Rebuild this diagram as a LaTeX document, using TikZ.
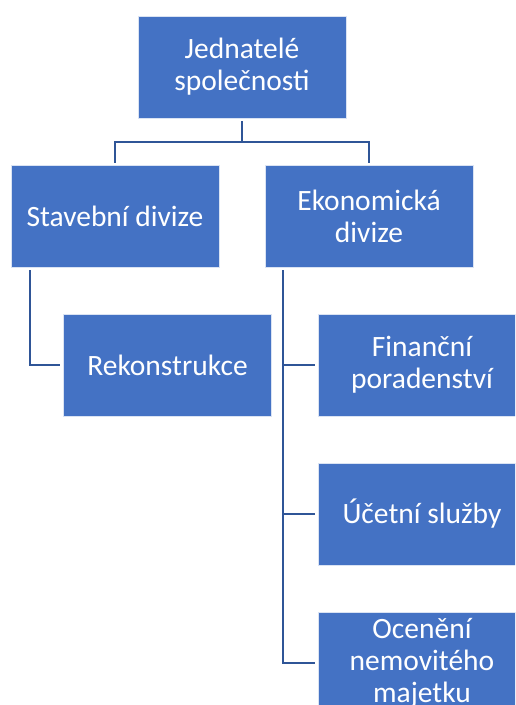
\documentclass[tikz,border=0pt]{standalone}
\usepackage{fontspec}
\setmainfont{Carlito}
\usepackage{tikz}
\usetikzlibrary{calc}
\usepackage{xcolor}
\definecolor{boxblue}{HTML}{4472C4}
\definecolor{lineblue}{HTML}{2F5597}

\begin{document}
\begin{tikzpicture}[x=1pt,y=-1pt,
box/.style={rectangle,fill=boxblue,draw=white!80!boxblue,line width=0.6pt,
  text=white,minimum width=208pt,minimum height=102pt,inner sep=2pt,
  align=center,font=\fontsize{29.5}{32}\selectfont},
link/.style={lineblue,line width=2pt,shorten <=3pt,shorten >=3pt}]
\useasboundingbox (0,0) rectangle (515,705);
\clip (0,0) rectangle (515,705);

\node[box] (top) at (242,67) {Jednatelé\\společnosti};
\node[box] (stav) at (115,216) {Stavební divize};
\node[box] (ekon) at (369,216) {Ekonomická\\divize};
\node[box] (rek) at (167.5,365) {Rekonstrukce};
\node[box] (fin) at (422,365) {Finanční\\poradenství};
\node[box] (uct) at (422,514) {Účetní služby};
\node[box] (oce) at (422,663) {Ocenění\\nemovitého\\majetku};

% top level
\draw[link,shorten >=2pt] (top.south) -- ++(0,24) -| (stav.north);
\draw[link,shorten >=2pt] (top.south) -- ++(0,24) -| (ekon.north);
% stavebni divize
\draw[link] ([xshift=19pt]stav.south west) |- (rek.west);
% ekonomicka divize
\foreach \n in {fin,uct,oce}
  \draw[link] ([xshift=18pt]ekon.south west) |- (\n.west);
\end{tikzpicture}
\end{document}
